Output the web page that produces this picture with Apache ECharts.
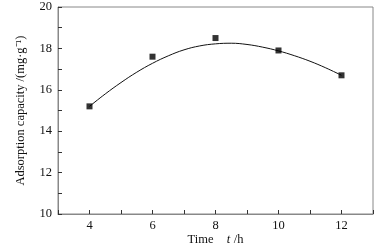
<!DOCTYPE html>
<html><head><meta charset="utf-8">
<script src="https://cdn.jsdelivr.net/npm/echarts@6/dist/echarts.min.js"></script>
<style>html,body{margin:0;padding:0;background:#fff}#c{width:389px;height:252px}</style>
</head><body><div id="c"></div>
<script>
var times = [4, 6, 8, 10, 12];
var capacity = [15.2, 17.6, 18.5, 17.9, 16.7];
var fitX = [4, 4.5, 5, 5.5, 6, 6.5, 7, 7.5, 8, 8.5, 9, 9.5, 10, 10.5, 11, 11.5, 12];
var fitY = [15.2, 15.8, 16.35, 16.85, 17.28, 17.64, 17.93, 18.12, 18.22, 18.25, 18.19, 18.06, 17.88, 17.65, 17.38, 17.06, 16.7];
var xTicks = [4, 6, 8, 10, 12];
var yTicks = [10, 12, 14, 16, 18, 20];

var pts = times.map(function(t, i){ return [t, capacity[i]]; });
var fit = fitX.map(function(t, i){ return [t, fitY[i]]; });
var font = 'Liberation Serif';
var axisCol = '#888';
var chart = echarts.init(document.getElementById('c'));
chart.setOption({
  animation: false,
  grid: {left: 58, right: 16, top: 7, bottom: 38, show: true, borderColor: axisCol, borderWidth: 1, containLabel: false, outerBoundsMode: 'none'},
  xAxis: {
    type: 'value', min: 3, max: 13, interval: 1,
    axisLine: {show: true, lineStyle: {color: axisCol}},
    axisTick: {inside: true, length: 4, lineStyle: {color: '#333'}},
    splitLine: {show: false},
    axisLabel: {color: '#111', fontFamily: font, fontSize: 12.5, margin: 5,
      formatter: function(v){ return xTicks.indexOf(v) >= 0 ? String(v) : ''; }},
    name: '{n|Time}    {i|t} {n|/h}', nameLocation: 'middle', nameGap: 19, nameMoveOverlap: false,
    nameTextStyle: {rich: {n: {fontFamily: font, fontSize: 12.5, color: '#111'}, i: {fontFamily: font, fontSize: 12.5, fontStyle: 'italic', color: '#111'}}}
  },
  yAxis: {
    type: 'value', min: 10, max: 20, interval: 1,
    axisLine: {show: true, lineStyle: {color: axisCol}},
    axisTick: {inside: true, length: 4, lineStyle: {color: '#333'}},
    splitLine: {show: false},
    axisLabel: {color: '#111', fontFamily: font, fontSize: 12.5, margin: 6,
      formatter: function(v){ return yTicks.indexOf(v) >= 0 ? String(v) : ''; }},
    name: 'Adsorption capacity /(mg·g⁻¹)', nameLocation: 'middle', nameRotate: 90, nameGap: 31, nameMoveOverlap: false,
    nameTextStyle: {fontFamily: font, fontSize: 12.5, color: '#111'}
  },
  series: [
    {type: 'line', data: fit, smooth: 0.4, showSymbol: false, lineStyle: {color: '#111', width: 1}, z: 2},
    {type: 'scatter', data: pts, symbol: 'rect', symbolSize: 6, itemStyle: {color: '#000'}, z: 3}
  ]
});
</script></body></html>
